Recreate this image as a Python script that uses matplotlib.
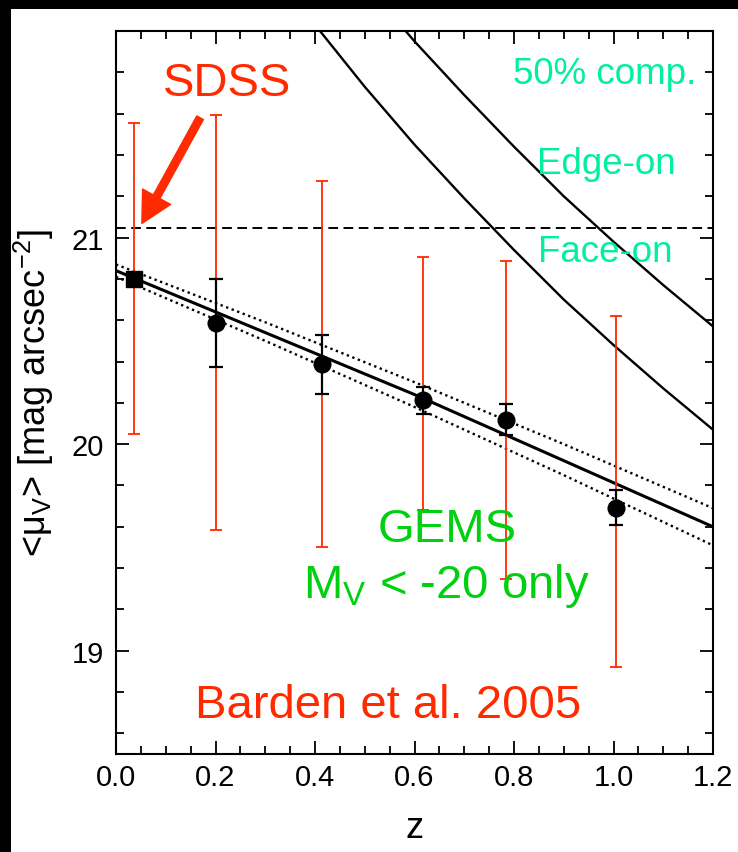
import matplotlib
matplotlib.use('Agg')
import matplotlib.pyplot as plt
from matplotlib.patches import Rectangle
from matplotlib.ticker import MultipleLocator, FormatStrFormatter

plt.rcParams['font.family'] = ['Liberation Sans', 'DejaVu Sans']
plt.rcParams['mathtext.fontset'] = 'custom'
plt.rcParams['mathtext.rm'] = 'Liberation Sans'
plt.rcParams['mathtext.default'] = 'regular'

# --- data ---
# SDSS local point
sdss_z = [0.036]
sdss_mu = [20.80]
sdss_err = [0.753]

# GEMS bins (M_V < -20)
gems_z = [0.202, 0.415, 0.618, 0.784, 1.006]
gems_mu = [20.585, 20.386, 20.213, 20.118, 19.692]
gems_err = [0.213, 0.143, 0.066, 0.074, 0.085]          # error of the mean (black)
gems_sig_lo = [1.000, 0.882, 0.533, 0.770, 0.769]       # scatter (red), downward
gems_sig_hi = [1.009, 0.886, 0.692, 0.769, 0.926]       # scatter (red), upward

# linear fit + confidence band
fit_z = [0.0, 0.3, 0.6, 0.9, 1.2]
fit_mu = [20.84, 20.54, 20.24, 19.92, 19.60]
fit_hi = [20.87, 20.59, 20.30, 20.00, 19.69]
fit_lo = [20.81, 20.50, 20.18, 19.85, 19.51]

# 50% completeness limits
comp1_z = [0.40, 0.5, 0.6, 0.7, 0.8, 0.9, 1.0, 1.1, 1.2]
comp1_mu = [22.03, 21.73, 21.45, 21.19, 20.94, 20.70, 20.48, 20.27, 20.07]
comp2_z = [0.55, 0.6, 0.7, 0.8, 0.9, 1.0, 1.1, 1.2]
comp2_mu = [22.09, 21.95, 21.69, 21.44, 21.20, 20.98, 20.77, 20.57]

sdss_limit = 21.045
ytick_vals = [19, 20, 21]

RED = '#ff2a00'
CYAN = '#00f0a0'
GREEN = '#00d010'

fig = plt.figure(figsize=(7.38, 8.53), dpi=100)
fig.patch.set_facecolor('black')
# white page inside the black frame (frame on left and top)
fig.add_artist(Rectangle((11 / 738, 0), (738 - 11) / 738, 1 - 10 / 853,
                         transform=fig.transFigure, facecolor='white',
                         edgecolor='none', zorder=0))

ax = fig.add_axes([116 / 738, 1 - 755 / 853, (713 - 116) / 738, (755 - 32) / 853])

# completeness curves and SDSS limit
ax.plot(comp1_z, comp1_mu, color='k', lw=1.7)
ax.plot(comp2_z, comp2_mu, color='k', lw=1.7)
ax.axhline(sdss_limit, color='k', lw=1.4, ls=(0, (5, 2.8)))

# fit
ax.plot(fit_z, fit_mu, color='k', lw=2.2)
ax.plot(fit_z, fit_hi, color='k', lw=1.7, ls=(0, (1, 1.5)))
ax.plot(fit_z, fit_lo, color='k', lw=1.7, ls=(0, (1, 1.5)))

# red scatter bars
ax.errorbar(sdss_z, sdss_mu, yerr=sdss_err, fmt='none', ecolor=RED,
            elinewidth=1.3, capsize=4, capthick=1.3)
ax.errorbar(gems_z, gems_mu, yerr=[gems_sig_lo, gems_sig_hi], fmt='none',
            ecolor=RED, elinewidth=1.3, capsize=4, capthick=1.3)
# black error of mean
ax.errorbar(gems_z, gems_mu, yerr=gems_err, fmt='none', ecolor='k',
            elinewidth=1.6, capsize=5, capthick=1.6)
ax.plot(gems_z, gems_mu, 'o', color='k', ms=12, zorder=5)
ax.plot(sdss_z, sdss_mu, 's', color='k', ms=12, zorder=5)

# labels in the plot
ax.text(0.224, 21.691, 'SDSS', color=RED, fontsize=34, ha='center', va='baseline')
ax.annotate('', xy=(0.052, 21.068), xytext=(0.169, 21.58),
            arrowprops=dict(arrowstyle='simple,head_length=1.1,head_width=1.15,tail_width=0.27',
                            color=RED, mutation_scale=20, shrinkA=0, shrinkB=0))
ax.text(0.983, 21.749, '50% comp.', color=CYAN, fontsize=26.5, ha='center', va='baseline')
ax.text(0.985, 21.314, 'Edge-on', color=CYAN, fontsize=26.5, ha='center', va='baseline')
ax.text(0.984, 20.886, 'Face-on', color=CYAN, fontsize=26.5, ha='center', va='baseline')
ax.text(0.666, 19.531, 'GEMS', color=GREEN, fontsize=34, ha='center', va='baseline')
ax.text(0.665, 19.261, r'M$_{\rm V}$ < -20 only', color=GREEN, fontsize=34,
        ha='center', va='baseline')
ax.text(0.546, 18.681, 'Barden et al. 2005', color=RED, fontsize=34,
        ha='center', va='baseline')

ax.set_xlim(0, 1.2)
ax.set_ylim(18.5, 22.0)
ax.xaxis.set_major_locator(MultipleLocator(0.2))
ax.xaxis.set_minor_locator(MultipleLocator(0.05))
ax.xaxis.set_major_formatter(FormatStrFormatter('%.1f'))
ax.set_yticks(ytick_vals)
ax.yaxis.set_minor_locator(MultipleLocator(0.2))
ax.tick_params(which='both', direction='in', top=True, right=True, width=1.3,
               labelsize=21)
ax.tick_params(which='major', length=9.5)
ax.tick_params(which='minor', length=5.5)
ax.tick_params(axis='x', pad=6.5)
ax.tick_params(axis='y', pad=9)
for s in ax.spines.values():
    s.set_linewidth(1.5)

ax.set_xlabel('z', fontsize=26)
ax.set_ylabel(r'<μ$_{\rm V}$> [mag arcsec$^{-2}$]', fontsize=26)
ax.xaxis.set_label_coords(0.5, -0.078)
ax.yaxis.set_label_coords(-0.100, 0.5)

fig.savefig('out.png', dpi=100, facecolor=fig.get_facecolor())
